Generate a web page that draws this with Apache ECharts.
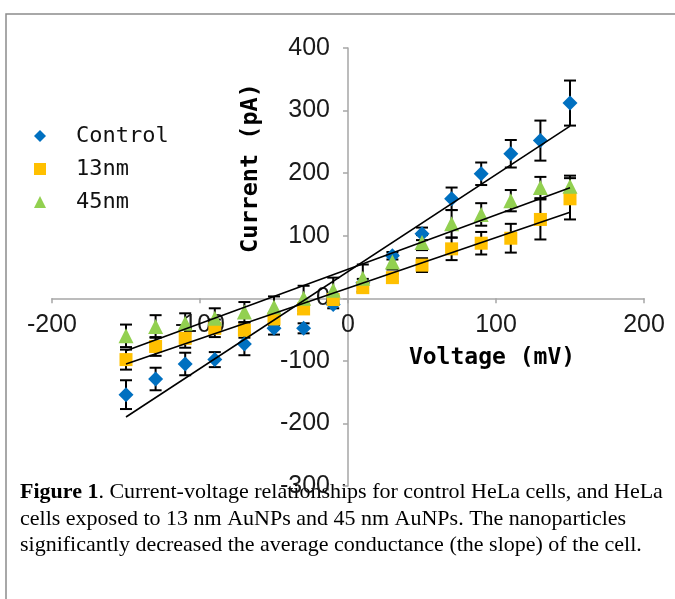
<!DOCTYPE html>
<html>
<head>
<meta charset="utf-8">
<script src="https://cdn.jsdelivr.net/npm/echarts@6/dist/echarts.min.js"></script>
<style>
    html, body { margin: 0; padding: 0; background: #fff; }
    #container { width: 675px; height: 599px; }
</style>
</head>
<body>
<div id="container"></div>
<script>
// data
var voltage = [-150, -130, -110, -90, -70, -50, -30, -10, 10, 30, 50, 70, 90, 110, 130, 150]
var control = [-154, -129, -105, -98, -73, -48, -48, -10, 25, 68, 103, 159, 199, 231, 252, 312]
var controlErr = [23, 18, 18, 12, 18, 10, 8, 6, 6, 6, 10, 18, 18, 22, 32, 36]
var nm13 = [-98, -77, -64, -48, -51, -33, -17, -2, 17, 33, 53, 79, 88, 96, 126, 159]
var nm13Err = [16, 15, 15, 14, 12, 10, 8, 6, 6, 6, 11, 18, 18, 23, 32, 33]
var nm45 = [-60, -45, -40, -32, -22, -14, 0, 13, 32, 58, 89, 119, 134, 156, 177, 179]
var nm45Err = [18, 18, 16, 16, 16, 17, 20, 20, 22, 12, 12, 22, 18, 17, 17, 17]

var seriesNames = ['Control', '13nm', '45nm']
var xTicks = [-200, -100, 0, 100, 200]
var yTicks = [-300, -200, -100, 0, 100, 200, 300, 400]

var captionBold = 'Figure 1'
var captionLines = [
    '. Current-voltage relationships for control HeLa cells, and HeLa',
    'cells exposed to 13 nm AuNPs and 45 nm AuNPs. The nanoparticles',
    'significantly decreased the average conductance (the slope) of the cell.',
]

var pairs = function (xs, ys) {
    var res = []
    for (var i = 0; i < xs.length; i++) {
        res.push([xs[i], ys[i]])
    }
    return res
}

var errData = function (xs, ys, es) {
    var res = []
    for (var i = 0; i < xs.length; i++) {
        res.push([xs[i], ys[i] - es[i], ys[i] + es[i]])
    }
    return res
}

// least squares trend line, drawn from first to last voltage
var trend = function (xs, ys) {
    var n = xs.length
    var sx = 0, sy = 0, sxx = 0, sxy = 0
    for (var i = 0; i < n; i++) {
        sx += xs[i]
        sy += ys[i]
        sxx += xs[i] * xs[i]
        sxy += xs[i] * ys[i]
    }
    var k = (n * sxy - sx * sy) / (n * sxx - sx * sx)
    var b = (sy - k * sx) / n
    var x0 = xs[0]
    var x1 = xs[n - 1]
    return [[x0, k * x0 + b], [x1, k * x1 + b]]
}

var renderErr = function (params, api) {
    var x = api.value(0)
    var lo = api.coord([x, api.value(1)])
    var hi = api.coord([x, api.value(2)])
    var w = 6
    var st = { stroke: '#000', lineWidth: 2 }
    return {
        type: 'group',
        children: [
            { type: 'line', shape: { x1: lo[0], y1: lo[1], x2: hi[0], y2: hi[1] }, style: st },
            { type: 'line', shape: { x1: lo[0] - w, y1: lo[1], x2: lo[0] + w, y2: lo[1] }, style: st },
            { type: 'line', shape: { x1: hi[0] - w, y1: hi[1], x2: hi[0] + w, y2: hi[1] }, style: st },
        ]
    }
}

const chartInit = function () {
    var dom = document.getElementById('container')
    var myChart = echarts.init(dom)

    // grid box, axes are pulled in to cross at 0
    var gl = 52, gr = 31, gt = 48, gb = 113
    var W = 675, H = 599
    var plotW = W - gl - gr
    var plotH = H - gt - gb
    var x0 = xTicks[0], x1 = xTicks[xTicks.length - 1]
    var y0 = yTicks[0], y1 = yTicks[yTicks.length - 1]
    var yAxisOffset = -plotW * (0 - x0) / (x1 - x0)
    var xAxisOffset = -plotH * (0 - y0) / (y1 - y0)

    var colors = ['#0070C0', '#FFC000', '#92D050']
    var symbols = ['diamond', 'rect', 'triangle']
    var sizes = [15, 13, 15]
    var ys = [control, nm13, nm45]
    var es = [controlErr, nm13Err, nm45Err]

    var series = []
    for (var i = 0; i < 3; i++) {
        series.push({
            name: seriesNames[i] + ' err',
            type: 'custom',
            renderItem: renderErr,
            data: errData(voltage, ys[i], es[i]),
            z: 2,
            silent: true,
        })
    }
    for (var i = 0; i < 3; i++) {
        series.push({
            name: seriesNames[i],
            type: 'scatter',
            symbol: symbols[i],
            symbolSize: sizes[i],
            itemStyle: { color: colors[i], opacity: 1 },
            data: pairs(voltage, ys[i]),
            z: 3,
        })
    }
    for (var i = 0; i < 3; i++) {
        series.push({
            name: seriesNames[i] + ' fit',
            type: 'line',
            showSymbol: false,
            symbol: 'none',
            lineStyle: { color: '#000', width: 1.6 },
            data: trend(voltage, ys[i]),
            z: 4,
            silent: true,
        })
    }

    var tickFont = {
        color: '#1a1a1a',
        fontFamily: 'Liberation Sans',
        fontSize: 25,
    }
    var axisGray = { color: '#a6a6a6', width: 1.5 }

    var option = {
        animation: false,
        grid: { left: gl, right: gr, top: gt, bottom: gb, outerBoundsMode: 'none', containLabel: false },
        legend: {
            orient: 'vertical',
            left: 29,
            top: 120,
            itemGap: 11,
            itemWidth: 12,
            itemHeight: 12,
            textStyle: {
                fontFamily: 'DejaVu Sans Mono',
                fontSize: 22,
                color: '#111',
                padding: [0, 0, 0, 25],
            },
            data: [
                { name: 'Control', icon: 'diamond' },
                { name: '13nm', icon: 'rect' },
                { name: '45nm', icon: 'triangle' },
            ],
        },
        xAxis: {
            type: 'value',
            min: x0,
            max: x1,
            interval: 100,
            offset: xAxisOffset,
            splitLine: { show: false },
            axisLine: { onZero: false, lineStyle: axisGray },
            axisTick: { show: true, length: 5, lineStyle: axisGray },
            axisLabel: Object.assign({ margin: 14 }, tickFont),
        },
        yAxis: {
            type: 'value',
            min: y0,
            max: y1,
            interval: 100,
            offset: yAxisOffset,
            splitLine: { show: false },
            axisLine: { onZero: false, lineStyle: axisGray },
            axisTick: { show: true, length: 5, lineStyle: axisGray },
            axisLabel: Object.assign({ margin: 18 }, tickFont),
        },
        graphic: [
            {
                type: 'rect',
                shape: { x: 6, y: 14, width: 700, height: 700 },
                style: { fill: 'none', stroke: '#8c8c8c', lineWidth: 1.5 },
                silent: true,
            },
            {
                type: 'text',
                x: 492,
                y: 358,
                style: {
                    text: 'Voltage (mV)',
                    fontFamily: 'DejaVu Sans Mono',
                    fontWeight: 'bold',
                    fontSize: 23,
                    fill: '#000',
                    align: 'center',
                    verticalAlign: 'middle',
                },
            },
            {
                type: 'text',
                x: 251,
                y: 168,
                rotation: Math.PI / 2,
                style: {
                    text: 'Current (pA)',
                    fontFamily: 'DejaVu Sans Mono',
                    fontWeight: 'bold',
                    fontSize: 23.5,
                    fill: '#000',
                    align: 'center',
                    verticalAlign: 'middle',
                },
            },
            {
                type: 'text',
                left: 20,
                top: 479,
                style: {
                    text: '{b|' + captionBold + '}' + captionLines.join('\n'),
                    fontFamily: 'Liberation Serif',
                    fontSize: 22,
                    lineHeight: 26.5,
                    fill: '#000',
                    rich: {
                        b: { fontFamily: 'Liberation Serif', fontSize: 22, fontWeight: 'bold', lineHeight: 26.5 },
                    },
                },
            },
        ],
        series: series,
    }

    myChart.setOption(option, true)
}

chartInit()
</script>
</body>
</html>
